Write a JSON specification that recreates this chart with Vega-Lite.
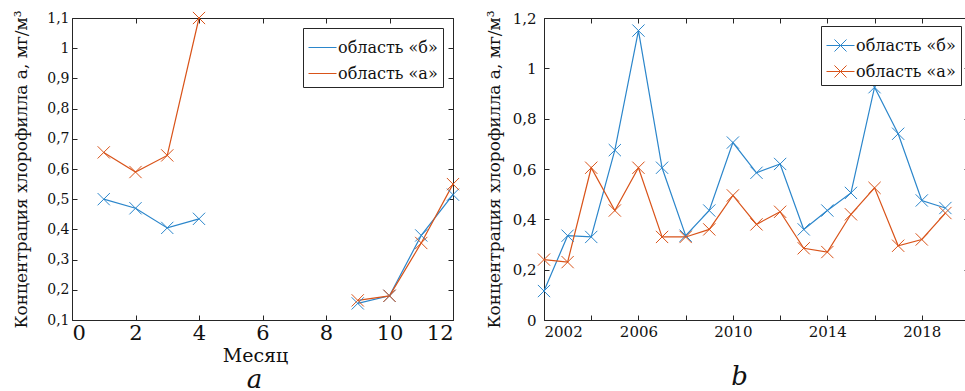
{
  "$schema": "https://vega.github.io/schema/vega-lite/v6.json",
  "background": "white",
  "padding": {"left": 11, "top": 9, "right": 0, "bottom": 0},
  "bounds": "flush",
  "spacing": 91,
  "config": {
    "view": {"stroke": "#262626", "strokeWidth": 1},
    "font": "DejaVu Serif",
    "axis": {
      "domain": false, "grid": false, "ticks": true, "tickSize": -5,
      "tickColor": "#262626", "labelColor": "#111111", "titleColor": "#111111",
      "labelFont": "DejaVu Serif", "titleFont": "DejaVu Serif",
      "titleFontWeight": "normal"
    },
    "legend": {
      "labelFont": "DejaVu Serif", "labelFontSize": 16, "labelColor": "#111111",
      "strokeColor": "#262626", "fillColor": "white", "padding": 5, "rowPadding": 3,
      "symbolSize": 784, "symbolStrokeWidth": 1, "labelOffset": 1
    }
  },
  "datasets": {
    "month": [
      {"month": 1, "value": 0.50, "series": "область «б»", "part": 1},
      {"month": 2, "value": 0.47, "series": "область «б»", "part": 1},
      {"month": 3, "value": 0.405, "series": "область «б»", "part": 1},
      {"month": 4, "value": 0.435, "series": "область «б»", "part": 1},
      {"month": 9, "value": 0.155, "series": "область «б»", "part": 2},
      {"month": 10, "value": 0.18, "series": "область «б»", "part": 2},
      {"month": 11, "value": 0.38, "series": "область «б»", "part": 2},
      {"month": 12, "value": 0.515, "series": "область «б»", "part": 2},
      {"month": 1, "value": 0.655, "series": "область «а»", "part": 1},
      {"month": 2, "value": 0.59, "series": "область «а»", "part": 1},
      {"month": 3, "value": 0.645, "series": "область «а»", "part": 1},
      {"month": 4, "value": 1.10, "series": "область «а»", "part": 1},
      {"month": 9, "value": 0.165, "series": "область «а»", "part": 2},
      {"month": 10, "value": 0.18, "series": "область «а»", "part": 2},
      {"month": 11, "value": 0.355, "series": "область «а»", "part": 2},
      {"month": 12, "value": 0.55, "series": "область «а»", "part": 2}
    ],
    "year": [
      {"year": 2002, "value": 0.115, "series": "область «б»"},
      {"year": 2003, "value": 0.335, "series": "область «б»"},
      {"year": 2004, "value": 0.33, "series": "область «б»"},
      {"year": 2005, "value": 0.675, "series": "область «б»"},
      {"year": 2006, "value": 1.15, "series": "область «б»"},
      {"year": 2007, "value": 0.605, "series": "область «б»"},
      {"year": 2008, "value": 0.335, "series": "область «б»"},
      {"year": 2009, "value": 0.435, "series": "область «б»"},
      {"year": 2010, "value": 0.705, "series": "область «б»"},
      {"year": 2011, "value": 0.585, "series": "область «б»"},
      {"year": 2012, "value": 0.62, "series": "область «б»"},
      {"year": 2013, "value": 0.36, "series": "область «б»"},
      {"year": 2014, "value": 0.435, "series": "область «б»"},
      {"year": 2015, "value": 0.505, "series": "область «б»"},
      {"year": 2016, "value": 0.925, "series": "область «б»"},
      {"year": 2017, "value": 0.74, "series": "область «б»"},
      {"year": 2018, "value": 0.475, "series": "область «б»"},
      {"year": 2019, "value": 0.445, "series": "область «б»"},
      {"year": 2002, "value": 0.24, "series": "область «а»"},
      {"year": 2003, "value": 0.23, "series": "область «а»"},
      {"year": 2004, "value": 0.605, "series": "область «а»"},
      {"year": 2005, "value": 0.435, "series": "область «а»"},
      {"year": 2006, "value": 0.605, "series": "область «а»"},
      {"year": 2007, "value": 0.33, "series": "область «а»"},
      {"year": 2008, "value": 0.33, "series": "область «а»"},
      {"year": 2009, "value": 0.36, "series": "область «а»"},
      {"year": 2010, "value": 0.495, "series": "область «а»"},
      {"year": 2011, "value": 0.38, "series": "область «а»"},
      {"year": 2012, "value": 0.43, "series": "область «а»"},
      {"year": 2013, "value": 0.285, "series": "область «а»"},
      {"year": 2014, "value": 0.27, "series": "область «а»"},
      {"year": 2015, "value": 0.42, "series": "область «а»"},
      {"year": 2016, "value": 0.525, "series": "область «а»"},
      {"year": 2017, "value": 0.295, "series": "область «а»"},
      {"year": 2018, "value": 0.32, "series": "область «а»"},
      {"year": 2019, "value": 0.425, "series": "область «а»"}
    ]
  },
  "resolve": {"scale": {"color": "independent"}, "legend": {"color": "independent"}},
  "hconcat": [
    {
      "width": 381,
      "height": 302,
      "title": {"text": "а", "orient": "bottom", "fontSize": 26, "fontStyle": "italic", "fontWeight": "normal", "font": "DejaVu Serif", "color": "#111111", "offset": 2, "dx": -8},
      "resolve": {"scale": {"x": "independent", "y": "independent"}},
      "layer": [
        {
          "data": {"name": "month"},
          "encoding": {
            "x": {"field": "month", "type": "quantitative",
                  "scale": {"domain": [0, 12], "nice": false, "zero": false},
                  "axis": {"values": [0, 2, 4, 6, 8, 10, 12], "labelFont": "DejaVu Serif", "titleFont": "DejaVu Serif", "labelFontSize": 21, "labelPadding": 7, "title": "Месяц", "titleFontSize": 19, "titlePadding": 3, "titleX": 183}},
            "y": {"field": "value", "type": "quantitative",
                  "scale": {"domain": [0.1, 1.1], "nice": false, "zero": false},
                  "axis": {"values": [0.1, 0.2, 0.3, 0.4, 0.5, 0.6, 0.7, 0.8, 0.9, 1.0, 1.1], "labelExpr": "replace(format(datum.value, '.2~f'), '.', ',')", "labelFont": "DejaVu Serif", "titleFont": "DejaVu Serif", "labelFontSize": 14, "labelPadding": 8, "title": "Концентрация хлорофилла а, мг/м³", "titleFontSize": 17, "titleBaseline": "middle", "titleX": -51}},
            "color": {"field": "series", "type": "nominal",
                      "scale": {"domain": ["область «б»", "область «а»"], "range": ["#2b86cb", "#d95319"]},
                      "legend": {"title": null, "orient": "top-right", "offset": 10, "labelFont": "DejaVu Serif", "labelFontSize": 16, "symbolType": "stroke", "symbolSize": 784}}
          },
          "layer": [
            {"mark": {"type": "line", "strokeWidth": 1.2}, "encoding": {"detail": {"field": "part", "type": "nominal"}}},
            {"mark": {"type": "point", "shape": "M-1,-1L1,1M-1,1L1,-1", "filled": false, "size": 150, "strokeWidth": 1, "opacity": 1}}
          ]
        },
        {
          "data": {"name": "month"},
          "mark": {"type": "point", "opacity": 0},
          "encoding": {
            "x": {"field": "month", "type": "quantitative",
                  "scale": {"domain": [0, 12], "nice": false, "zero": false},
                  "axis": {"orient": "top", "values": [0, 2, 4, 6, 8, 10, 12], "labels": false, "title": null}},
            "y": {"field": "value", "type": "quantitative",
                  "scale": {"domain": [0.1, 1.1], "nice": false, "zero": false},
                  "axis": {"orient": "right", "values": [0.1, 0.2, 0.3, 0.4, 0.5, 0.6, 0.7, 0.8, 0.9, 1.0, 1.1], "labels": false, "title": null}}
          }
        }
      ]
    },
    {
      "width": 425,
      "height": 302,
      "title": {"text": "b", "orient": "bottom", "fontSize": 26, "fontStyle": "italic", "fontWeight": "normal", "font": "DejaVu Serif", "color": "#111111", "offset": 25, "dx": -17},
      "resolve": {"scale": {"x": "independent", "y": "independent"}},
      "layer": [
        {
          "data": {"name": "year"},
          "encoding": {
            "x": {"field": "year", "type": "quantitative",
                  "scale": {"domain": [2002, 2020], "nice": false, "zero": false},
                  "axis": {"values": [2002, 2004, 2006, 2008, 2010, 2012, 2014, 2016, 2018, 2020], "labelExpr": "(datum.value - 2002) % 4 == 0 ? format(datum.value, 'd') : ''", "labelFont": "DejaVu Serif", "labelFontSize": 15, "labelPadding": 9, "title": null}},
            "y": {"field": "value", "type": "quantitative",
                  "scale": {"domain": [0, 1.2], "nice": false, "zero": false},
                  "axis": {"values": [0, 0.2, 0.4, 0.6, 0.8, 1.0, 1.2], "labelExpr": "replace(format(datum.value, '.2~f'), '.', ',')", "labelFont": "DejaVu Serif", "titleFont": "DejaVu Serif", "labelFontSize": 15, "labelPadding": 13, "title": "Концентрация хлорофилла а, мг/м³", "titleFontSize": 17, "titleBaseline": "middle", "titleX": -50}},
            "color": {"field": "series", "type": "nominal",
                      "scale": {"domain": ["область «б»", "область «а»"], "range": ["#2b86cb", "#d95319"]},
                      "legend": {"title": null, "orient": "top-right", "offset": 8, "labelFont": "DejaVu Serif", "labelFontSize": 16,
                                 "symbolType": "M-1,0L1,0M-0.43,-0.43L0.43,0.43M-0.43,0.43L0.43,-0.43",
                                 "encode": {"symbols": {"enter": {"stroke": {"signal": "datum.value === 'область «б»' ? '#2b86cb' : '#d95319'"}}, "update": {"stroke": {"signal": "datum.value === 'область «б»' ? '#2b86cb' : '#d95319'"}}}}}}
          },
          "layer": [
            {"mark": {"type": "line", "strokeWidth": 1.2}},
            {"mark": {"type": "point", "shape": "M-1,-1L1,1M-1,1L1,-1", "filled": false, "size": 150, "strokeWidth": 1, "opacity": 1}}
          ]
        },
        {
          "data": {"name": "year"},
          "mark": {"type": "point", "opacity": 0},
          "encoding": {
            "x": {"field": "year", "type": "quantitative",
                  "scale": {"domain": [2002, 2020], "nice": false, "zero": false},
                  "axis": {"orient": "top", "values": [2002, 2004, 2006, 2008, 2010, 2012, 2014, 2016, 2018, 2020], "labels": false, "title": null}},
            "y": {"field": "value", "type": "quantitative",
                  "scale": {"domain": [0, 1.2], "nice": false, "zero": false},
                  "axis": {"orient": "right", "values": [0, 0.2, 0.4, 0.6, 0.8, 1.0, 1.2], "labels": false, "title": null}}
          }
        }
      ]
    }
  ]
}
